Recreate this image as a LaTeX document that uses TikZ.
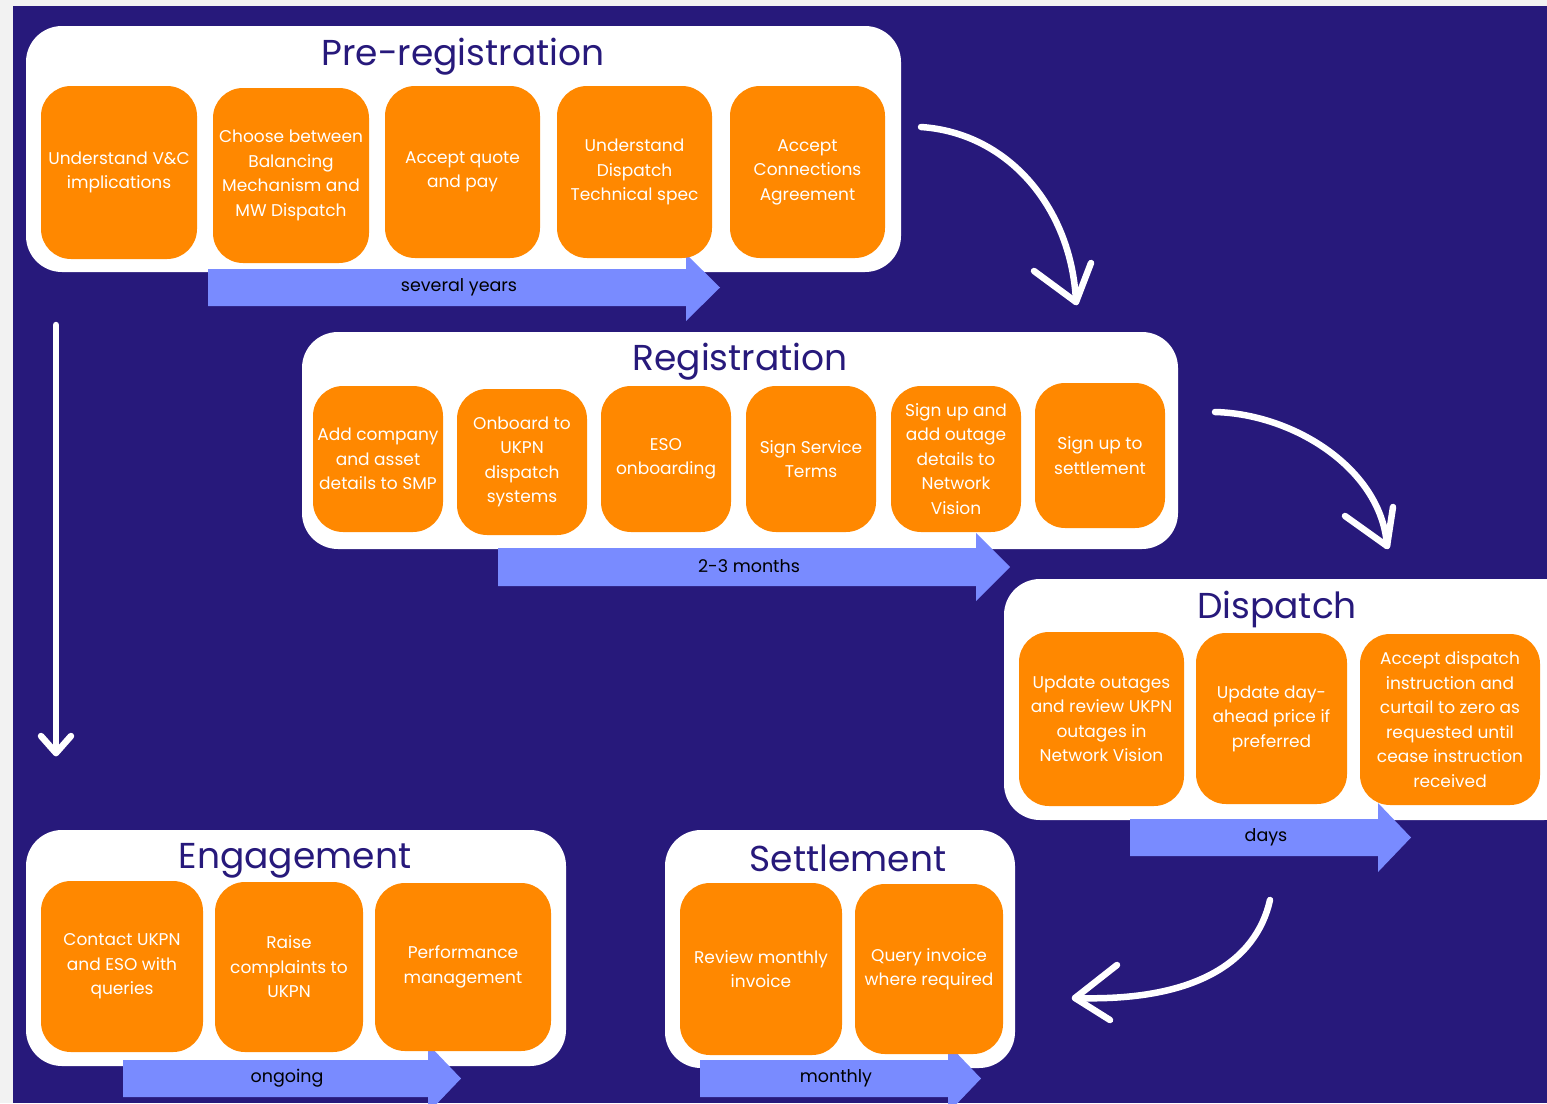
\documentclass[tikz,border=0pt]{standalone}
\usepackage{fontspec}
\setmainfont{Poppins}
\usetikzlibrary{positioning}
\definecolor{navy}{RGB}{39,25,123}
\definecolor{stepOrange}{RGB}{255,136,0}
\definecolor{barBlue}{RGB}{121,139,255}
\definecolor{edgeGray}{RGB}{242,242,242}

\begin{document}
\begin{tikzpicture}
        [x=1pt, y=-1pt,
        panel/.style={fill=white, rounded corners=36pt, inner sep=0pt},
        title/.style={text=navy, anchor=base, font=\fontsize{36}{40}\selectfont},
        task/.style={fill=stepOrange, rounded corners=30pt, inner sep=0pt, text=white, align=center, font=\fontsize{17}{24.5}\selectfont},
        bar/.style={fill=barBlue},
        barText/.style={text=black, font=\fontsize{17.5}{19}\selectfont},
        flow/.style={draw=white, line width=6.5pt, line cap=round, line join=round}]
        \useasboundingbox (0,0) rectangle (1547,1103);
        \fill[edgeGray] (0,0) rectangle (1547,1103);
        \fill[navy] (13,6) rectangle (1547,1103);

        % stage panels
        \node[panel, minimum width=875pt, minimum height=246pt] (prePanel) at (463.5,149) {};
        \node[panel, minimum width=876pt, minimum height=217pt] (regPanel) at (740,440.5) {};
        \node[panel, minimum width=576pt, minimum height=241pt] (disPanel) at (1292,699.5) {};
        \node[panel, minimum width=540pt, minimum height=236pt] (engPanel) at (296,948) {};
        \node[panel, minimum width=350pt, minimum height=238pt] (setPanel) at (840,949) {};

        \node[title] (preTitle) at (463,65) {Pre-registration};
        \node[title] (regTitle) at (740,370) {Registration};
        \node[title] (disTitle) at (1277,618) {Dispatch};
        \node[title] (engTitle) at (295,868) {Engagement};
        \node[title] (setTitle) at (848,871) {Settlement};

        % time bars
        \fill[bar] (208,269) -- (686,269) -- (686,254) -- (720,287.5) -- (686,321) -- (686,306) -- (208,306) -- cycle;
        \fill[bar] (498,548) -- (976,548) -- (976,533) -- (1010,567) -- (976,601) -- (976,586) -- (498,586) -- cycle;
        \fill[bar] (1130,819) -- (1378,819) -- (1378,803) -- (1411,837.5) -- (1378,872) -- (1378,856) -- (1130,856) -- cycle;
        \fill[bar] (123,1060) -- (428,1060) -- (428,1044) -- (461,1078.5) -- (428,1113) -- (428,1097) -- (123,1097) -- cycle;
        \fill[bar] (700,1060) -- (948,1060) -- (948,1044) -- (981,1078.5) -- (948,1113) -- (948,1097) -- (700,1097) -- cycle;
        \node[barText] (preTime) at (459,287) {several years};
        \node[barText] (regTime) at (749,566) {2-3 months};
        \node[barText] (disTime) at (1266,837) {days};
        \node[barText] (engTime) at (287,1078) {ongoing};
        \node[barText] (setTime) at (836,1078) {monthly};

        % tasks
        \node[task, minimum width=156pt, minimum height=173pt] (pre1) at (119,172.5) {Understand V\&C\\implications};
        \node[task, minimum width=156pt, minimum height=175pt] (pre2) at (291,175.5) {Choose between\\Balancing\\Mechanism and\\MW Dispatch};
        \node[task, minimum width=155pt, minimum height=172pt] (pre3) at (462.5,172) {Accept quote\\and pay};
        \node[task, minimum width=155pt, minimum height=172pt] (pre4) at (634.5,172) {Understand\\Dispatch\\Technical spec};
        \node[task, minimum width=155pt, minimum height=172pt] (pre5) at (807.5,172) {Accept\\Connections\\Agreement};

        \node[task, minimum width=130pt, minimum height=146pt] (reg1) at (378,459) {Add company\\and asset\\details to SMP};
        \node[task, minimum width=130pt, minimum height=146pt] (reg2) at (522,462) {Onboard to\\UKPN\\dispatch\\systems};
        \node[task, minimum width=130pt, minimum height=146pt] (reg3) at (666,459) {ESO\\onboarding};
        \node[task, minimum width=130pt, minimum height=146pt] (reg4) at (811,459) {Sign Service\\Terms};
        \node[task, minimum width=130pt, minimum height=146pt] (reg5) at (956,459) {Sign up and\\add outage\\details to\\Network\\Vision};
        \node[task, minimum width=130pt, minimum height=145pt] (reg6) at (1100,455.5) {Sign up to\\settlement};

        \node[task, minimum width=165pt, minimum height=174pt] (dis1) at (1101.5,719) {Update outages\\and review UKPN\\outages in\\Network Vision};
        \node[task, minimum width=151pt, minimum height=171pt] (dis2) at (1271.5,718.5) {Update day-\\ahead price if\\preferred};
        \node[task, minimum width=180pt, minimum height=171pt] (dis3) at (1450,719.5) {Accept dispatch\\instruction and\\curtail to zero as\\requested until\\cease instruction\\received};

        \node[task, minimum width=162pt, minimum height=171pt] (eng1) at (122,966.5) {Contact UKPN\\and ESO with\\queries};
        \node[task, minimum width=148pt, minimum height=170pt] (eng2) at (289,967) {Raise\\complaints to\\UKPN};
        \node[task, minimum width=176pt, minimum height=168pt] (eng3) at (463,967) {Performance\\management};

        \node[task, minimum width=162pt, minimum height=172pt] (set1) at (761,969) {Review monthly\\invoice};
        \node[task, minimum width=148pt, minimum height=170pt] (set2) at (929,969) {Query invoice\\where required};

        % white flow arrows
        \coordinate (downTop) at (56,325);
        \coordinate (downTip) at (56,753);
        \draw[flow] (downTop) -- (downTip);
        \draw[flow] (41,736) -- (downTip) -- (71,736);

        \coordinate (c1Start) at (921,127);
        \coordinate (c1Tip) at (1076,302);
        \draw[flow] (c1Start) .. controls (1010,133) and (1072,210) .. (c1Tip);
        \draw[flow] (1034,271) -- (c1Tip) -- (1091,263);

        \coordinate (c2Start) at (1215,412);
        \coordinate (c2Tip) at (1387,546);
        \draw[flow] (c2Start) .. controls (1295,414) and (1382,470) .. (c2Tip);
        \draw[flow] (1345,516) -- (c2Tip) -- (1393,507);

        \coordinate (c3Start) at (1270,900);
        \coordinate (c3Tip) at (1075,998);
        \draw[flow] (c3Start) .. controls (1256,962) and (1195,1002) .. (c3Tip);
        \draw[flow] (1117,965) -- (c3Tip) -- (1110,1020);
\end{tikzpicture}
\end{document}
